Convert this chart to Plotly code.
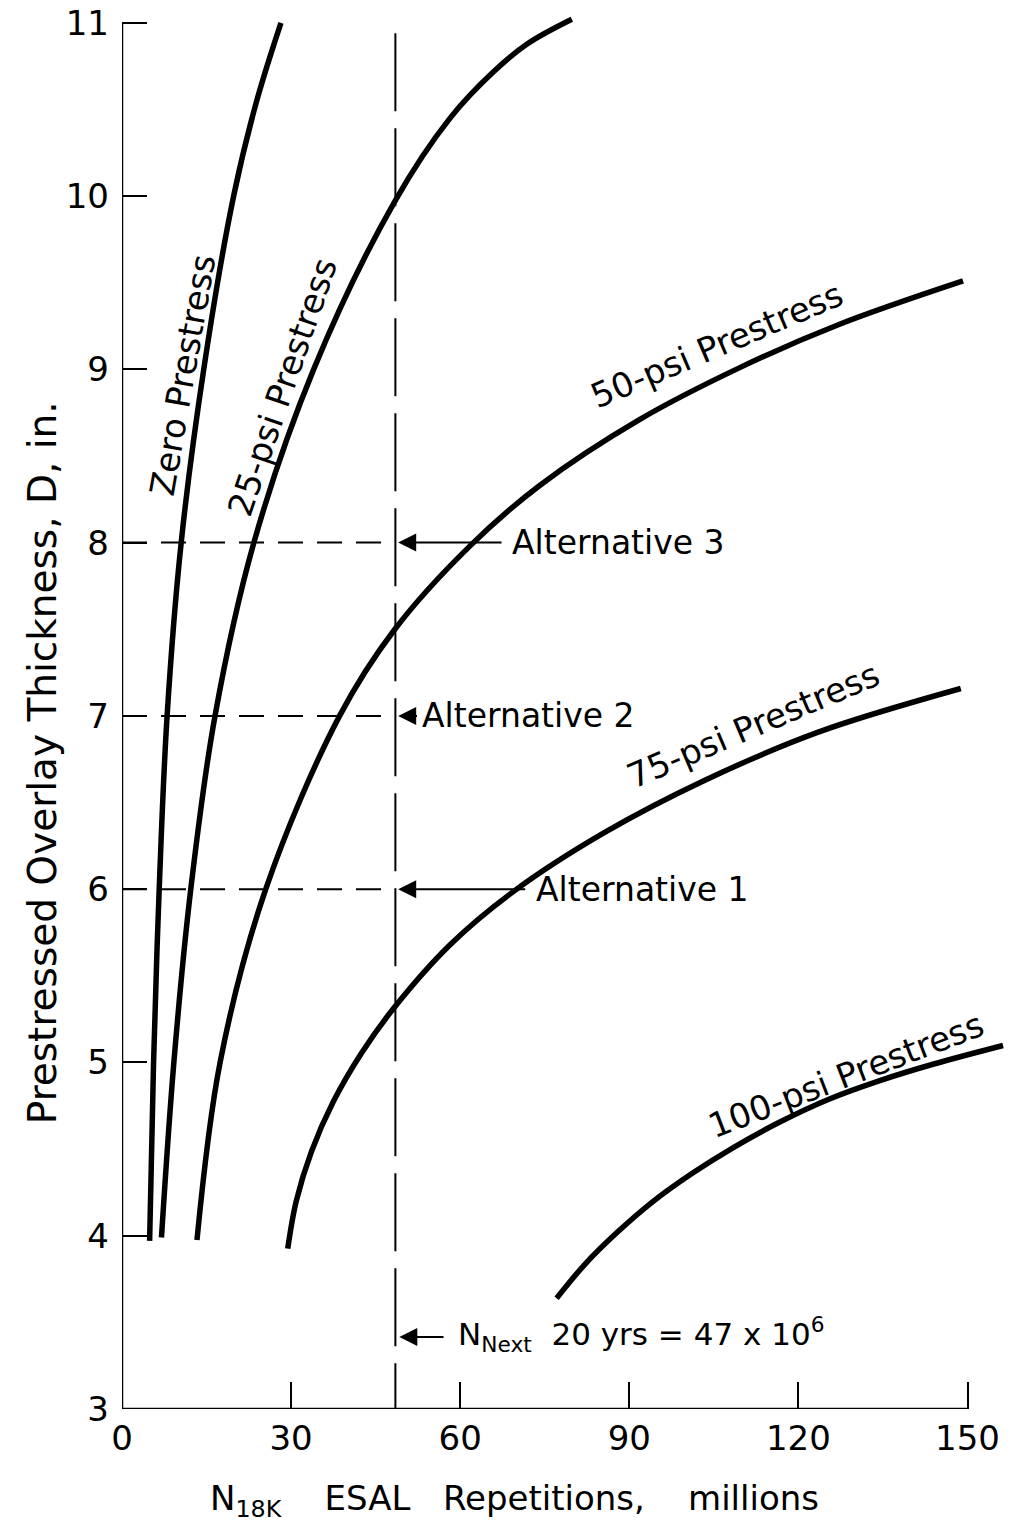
import plotly.graph_objects as go

# ---- data ----
x_zero = [4.9, 5.6, 6.6, 8.0, 10.5, 14.5, 19.8, 23.9, 28.2]
y_zero = [3.97, 5.0, 6.0, 7.0, 8.0, 9.0, 10.0, 10.55, 11.0]

x_25 = [7.0, 9.2, 12.2, 16.5, 23.4, 34.0, 48.4, 58.2, 66.0, 72.0, 79.8]
y_25 = [3.99, 5.0, 6.0, 7.0, 8.0, 9.0, 9.97, 10.45, 10.72, 10.88, 11.02]

x_50 = [13.3, 17.4, 25.5, 38.6, 48.4, 61.7, 74.1, 91.8, 109.6, 127.3, 149.2]
y_50 = [3.975, 5.0, 6.0, 7.0, 7.5, 7.98, 8.33, 8.71, 9.01, 9.26, 9.51]

x_75 = [29.4, 30.9, 33.6, 37.5, 42.5, 48.3, 58.3, 69.6, 85.4, 103.5, 123.4, 148.8]
y_75 = [3.925, 4.198, 4.485, 4.774, 5.054, 5.317, 5.682, 5.99, 6.323, 6.63, 6.905, 7.158]

x_100 = [77.1, 82.2, 87.9, 93.9, 101.1, 108.6, 116.7, 125.5, 134.7, 144.0, 156.3]
y_100 = [3.639, 3.838, 4.021, 4.19, 4.359, 4.512, 4.656, 4.789, 4.898, 4.991, 5.098]

n_next = 48.5            # position of the vertical dashed line as drawn
alt_levels = [6, 7, 8]   # Alternative 1, 2, 3 thickness
alt_names = ["Alternative 1", "Alternative 2", "Alternative 3"]
alt_tail_x = [71.8, 52.6, 67.6]
alt_text_x = [73.0, 52.8, 68.8]

x_ticks = [0, 30, 60, 90, 120, 150]
y_ticks = [3, 4, 5, 6, 7, 8, 9, 10, 11]

curve_labels = ["Zero Prestress", "25-psi Prestress", "50-psi Prestress",
                "75-psi Prestress", "100-psi Prestress"]
label_x = [10.7, 28.4, 105.5, 112.0, 128.4]
label_y = [8.97, 8.9, 9.14, 6.95, 4.93]
label_ang = [-80, -71, -23, -23, -21]

FONT = "DejaVu Sans"
fig = go.Figure()

for xs, ys in [(x_zero, y_zero), (x_25, y_25), (x_50, y_50), (x_75, y_75), (x_100, y_100)]:
    fig.add_trace(go.Scatter(x=xs, y=ys, mode="lines",
                             line=dict(color="black", width=5.5, shape="spline", smoothing=1.0),
                             hoverinfo="skip"))

shapes = []
# axis lines
shapes.append(dict(type="line", xref="x", yref="y", x0=0, x1=0, y0=3, y1=11,
                   line=dict(color="black", width=2.5)))
shapes.append(dict(type="line", xref="x", yref="y", x0=0, x1=150, y0=3, y1=3,
                   line=dict(color="black", width=2.5)))
# vertical dashed line
shapes.append(dict(type="line", xref="x", yref="y", x0=n_next, x1=n_next, y0=10.94, y1=3,
                   line=dict(color="black", width=2, dash="78px,17px")))
# horizontal dashed lines
for lv in alt_levels:
    shapes.append(dict(type="line", xref="x", yref="y", x0=0, x1=n_next, y0=lv, y1=lv,
                       line=dict(color="black", width=2, dash="25px,14px")))

ann = []
for t, xx, yy, a in zip(curve_labels, label_x, label_y, label_ang):
    ann.append(dict(x=xx, y=yy, xref="x", yref="y", text=t, showarrow=False,
                    textangle=a, font=dict(family=FONT, size=34, color="black"),
                    xanchor="center", yanchor="middle"))

for lv, nm, tx, txt in zip(alt_levels, alt_names, alt_tail_x, alt_text_x):
    ann.append(dict(x=n_next + 0.5, y=lv, ax=tx, ay=lv, xref="x", yref="y",
                    axref="x", ayref="y", text="", showarrow=True, arrowhead=2,
                    arrowsize=1.8, arrowwidth=2, arrowcolor="black", standoff=0,
                    startstandoff=0))
    ann.append(dict(x=txt, y=lv, xref="x", yref="y", text=nm, showarrow=False,
                    xanchor="left", yanchor="middle",
                    font=dict(family=FONT, size=33, color="black")))

# N next arrow and text
ann.append(dict(x=n_next + 0.7, y=3.415, ax=57.3, ay=3.415, xref="x", yref="y",
                axref="x", ayref="y", text="", showarrow=True, arrowhead=2,
                arrowsize=1.8, arrowwidth=2, arrowcolor="black", standoff=0))
ann.append(dict(x=59.3, y=3.43, xref="x", yref="y",
                text="N<sub>Next</sub>  20 yrs = 47 x 10<sup>6</sup>",
                showarrow=False, xanchor="left", yanchor="middle",
                font=dict(family=FONT, size=31, color="black")))

# axis titles (paper coordinates so they show outside the plotting area)
nb = "\u00a0"
ann.append(dict(x=0.444, y=-0.0647, xref="paper", yref="paper",
                text="N<sub>18K</sub>" + nb * 4 + "ESAL" + nb * 3 + "Repetitions," + nb * 4 + "millions",
                showarrow=False, xanchor="center", yanchor="middle",
                font=dict(family=FONT, size=34, color="black")))
ann.append(dict(x=-0.0904, y=0.4597, xref="paper", yref="paper",
                text="Prestressed Overlay Thickness, D, in.",
                showarrow=False, textangle=-90, xanchor="center", yanchor="middle",
                font=dict(family=FONT, size=39, color="black")))

fig.update_layout(
    width=1010, height=1527, autosize=False,
    margin=dict(l=122, r=3, t=2, b=118, pad=0),
    paper_bgcolor="white", plot_bgcolor="white",
    showlegend=False, shapes=shapes, annotations=ann,
    xaxis=dict(range=[0, 157], tickvals=x_ticks, ticktext=[str(v) for v in x_ticks],
               ticks="inside", ticklen=27, tickwidth=2, tickcolor="black",
               showgrid=False, zeroline=False, showline=False,
               tickfont=dict(family=FONT, size=34, color="black"),
               ticklabelstandoff=6),
    yaxis=dict(range=[3, 11.12], tickvals=y_ticks, ticktext=[str(v) for v in y_ticks],
               ticks="inside", ticklen=25, tickwidth=2, tickcolor="black",
               showgrid=False, zeroline=False, showline=False,
               tickfont=dict(family=FONT, size=34, color="black"),
               ticklabelstandoff=12),
)

fig.write_html("out.html")
